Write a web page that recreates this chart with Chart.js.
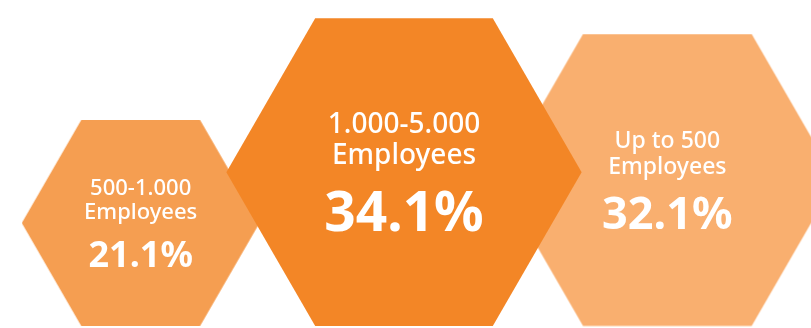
<!DOCTYPE html>
<html>
<head>
<meta charset="utf-8">
<script src="https://cdn.jsdelivr.net/npm/chart.js@4.4.1/dist/chart.umd.min.js"></script>
<style>
  html, body { margin: 0; padding: 0; background: #ffffff; }
  #c { display: block; }
</style>
</head>
<body>
<canvas id="c" width="811" height="328"></canvas>
<script>
// Company size groups and their share of respondents
const categories = ['500-1.000 Employees', '1.000-5.000 Employees', 'Up to 500 Employees'];
const labelLines = [['500-1.000', 'Employees'], ['1.000-5.000', 'Employees'], ['Up to 500', 'Employees']];
const shares = [21.1, 34.1, 32.1];

// Styling
const fillColors = ['#F59E51', '#F38626', '#F9AF6F'];
const labelFontSizes = [22, 28, 23];
const valueFontSizes = [36, 55, 45];
const drawOrder = [2, 0, 1]; // lower order is painted on top
const FONT = '"Noto Sans", "Open Sans", sans-serif';

// Hexagon circumradius (px) grows with the share
const hexRadius = v => 23.5 + 4.52 * v;
const halfHeight = r => r * Math.sqrt(3) / 2;

// Flat-topped hexagon sprite whose bottom edge sits on the data point
function hexSprite(r, color) {
  const h = halfHeight(r);
  const c = document.createElement('canvas');
  c.width = Math.ceil(2 * r);
  c.height = Math.ceil(4 * h);
  const g = c.getContext('2d');
  const cx = c.width / 2, cy = c.height / 2 - h;
  g.beginPath();
  for (let k = 0; k < 6; k++) {
    const a = Math.PI / 3 * k;
    g.lineTo(cx + r * Math.cos(a), cy + r * Math.sin(a));
  }
  g.closePath();
  g.fillStyle = color;
  g.fill();
  return c;
}

// Writes the group name and its share inside each hexagon
const hexLabels = {
  id: 'hexLabels',
  afterDatasetsDraw(chart) {
    const g = chart.ctx;
    g.save();
    g.fillStyle = '#ffffff';
    g.textAlign = 'center';
    g.textBaseline = 'alphabetic';
    chart.data.datasets.forEach((ds, i) => {
      const el = chart.getDatasetMeta(i).data[0];
      const cy = el.y - halfHeight(hexRadius(shares[i]));
      const ls = labelFontSizes[i], vs = valueFontSizes[i];
      const capL = 0.714 * ls, capV = 0.714 * vs, lineH = 1.12 * ls;
      const blockH = capL + lineH + ls + capV;
      const y0 = cy - blockH / 2 + capL;
      g.font = `500 ${ls}px ${FONT}`;
      labelLines[i].forEach((t, k) => g.fillText(t, el.x, y0 + k * lineH));
      g.font = `700 ${vs}px ${FONT}`;
      g.fillText(shares[i].toFixed(1) + '%', el.x, y0 + lineH + ls + capV);
    });
    g.restore();
  }
};

new Chart(document.getElementById('c'), {
  type: 'scatter',
  data: {
    labels: categories,
    datasets: categories.map((cat, i) => ({
      label: cat,
      data: [{ x: cat, y: 0 }],
      pointStyle: hexSprite(hexRadius(shares[i]), fillColors[i]),
      pointRadius: 1,
      order: drawOrder[i],
      clip: false
    }))
  },
  options: {
    responsive: false,
    animation: false,
    events: [],
    layout: { autoPadding: false, padding: { left: 9, right: 12, top: 0, bottom: 2 } },
    scales: {
      x: { type: 'category', offset: true, display: false },
      y: { type: 'linear', min: 0, max: 1, display: false }
    },
    plugins: {
      legend: { display: false },
      tooltip: { enabled: false }
    }
  },
  plugins: [hexLabels]
});
</script>
</body>
</html>
